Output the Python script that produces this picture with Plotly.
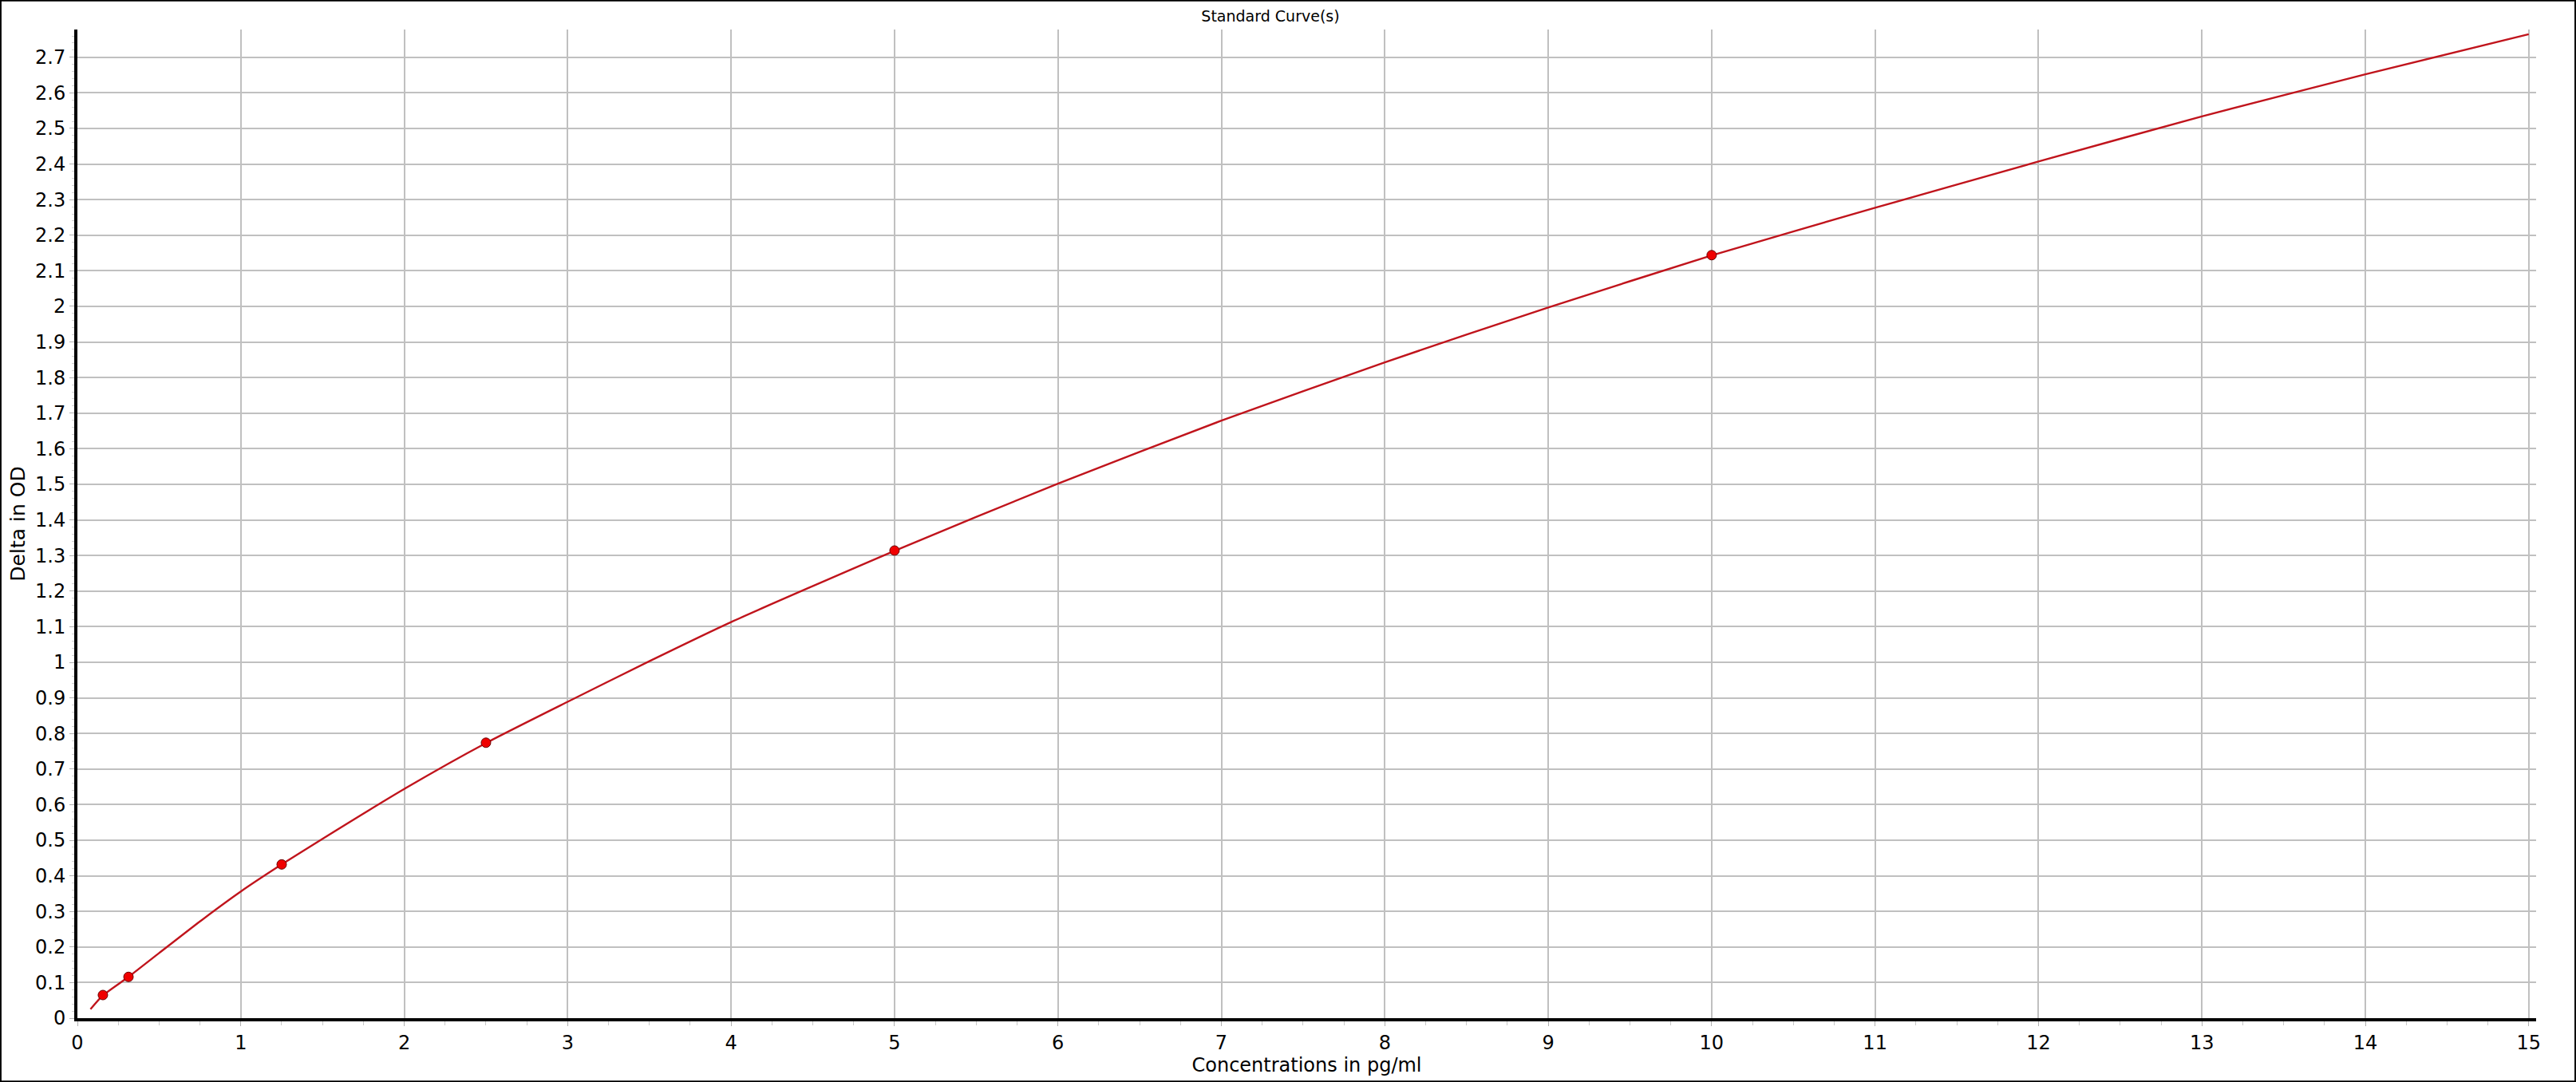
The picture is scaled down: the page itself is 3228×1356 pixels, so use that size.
import plotly.graph_objects as go

# standards (measured points)
std_conc = [0.156, 0.3125, 1.25, 2.5, 5, 10]
std_od = [0.065, 0.116, 0.432, 0.774, 1.314, 2.144]

# fitted curve
curve_conc = [0.08, 0.156, 0.3125, 0.5, 0.75, 1, 1.25, 1.5, 2, 2.5, 3, 3.5, 4,
              5, 6, 7, 8, 9, 10, 11, 12, 13, 14, 15]
curve_od = [0.025, 0.064, 0.116, 0.183, 0.272, 0.356, 0.432, 0.504, 0.644,
            0.773, 0.889, 1.003, 1.113, 1.313, 1.502, 1.679, 1.843, 1.997,
            2.143, 2.277, 2.407, 2.534, 2.652, 2.765]

W, H = 3228, 1356
ml, mr, mt, mb = 97, 50, 37, 80
font = "DejaVu Sans"

fig = go.Figure()

fig.add_trace(go.Scatter(
    x=curve_conc, y=curve_od, mode="lines",
    line=dict(color="#C0141C", width=2.4, shape="spline", smoothing=0.6),
    hoverinfo="skip", showlegend=False))

fig.add_trace(go.Scatter(
    x=std_conc, y=std_od, mode="markers",
    marker=dict(color="#F00000", size=12, line=dict(color="#6A0000", width=1)),
    showlegend=False))

pw = W - ml - mr
ph = H - mt - mb

fig.update_layout(
    width=W, height=H,
    margin=dict(l=ml, r=mr, t=mt, b=mb),
    paper_bgcolor="white", plot_bgcolor="white",
    font=dict(family=font, color="black", size=24),
    title=dict(text="Standard Curve(s)", font=dict(size=19, family=font),
               x=(1592 - ml) / pw, xref="paper", xanchor="center",
               y=1 - 20 / H, yref="container", yanchor="middle"),
    xaxis=dict(range=[0, 15.045], tick0=0, dtick=1, showgrid=True,
               gridcolor="#C0C0C0", gridwidth=2, zeroline=False,
               showline=True, linecolor="black", linewidth=4,
               ticks="outside", ticklen=6, tickcolor="#B0B0B0", tickwidth=1,
               minor=dict(dtick=0.25, ticks="outside", ticklen=5,
                          tickcolor="#C8C8C8", showgrid=False),
               title=dict(text="Concentrations in pg/ml", standoff=3,
                          font=dict(size=24))),
    yaxis=dict(range=[0, 2.778], tick0=0, dtick=0.1, showgrid=True,
               gridcolor="#C0C0C0", gridwidth=2, zeroline=False,
               showline=True, linecolor="black", linewidth=4,
               ticks="outside", ticklen=6, tickcolor="#B0B0B0", tickwidth=1,
               minor=dict(dtick=0.02, ticks="outside", ticklen=3,
                          tickcolor="#D0D0D0", showgrid=False),
               title=dict(text="Delta in OD", standoff=6,
                          font=dict(size=25))),
)

# outer frame around the whole picture
fig.add_shape(type="rect", xref="paper", yref="paper",
              x0=-ml / pw + 0.0003, x1=1 + mr / pw - 0.0003,
              y0=-mb / ph + 0.0007, y1=1 + mt / ph - 0.0007,
              line=dict(color="black", width=2), fillcolor="rgba(0,0,0,0)",
              layer="above")

# drop the default page margin so the figure sits at the window corner
fig.write_html("out.html",
               config={"displayModeBar": False},
               post_script="document.body.style.margin='0px';"
                           "document.body.style.overflow='hidden';")
